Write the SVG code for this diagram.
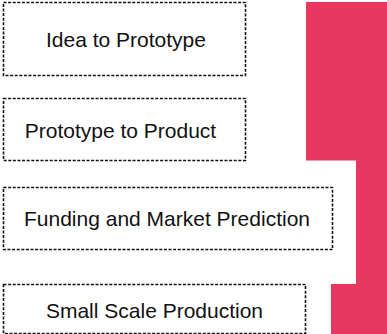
<svg xmlns="http://www.w3.org/2000/svg" width="387" height="334" viewBox="0 0 387 334">
<style>
.box{fill:#fff;stroke:#111;stroke-width:1.6;stroke-dasharray:3 1.6}
.lbl{font-family:"Liberation Sans",Arial,sans-serif;font-size:21px;fill:#111;text-anchor:middle}
</style>
<rect width="387" height="334" fill="#fff"/>
<g id="bar"><polygon points="306,2 387,2 387,334 331,334 331,284 356,284 356,160.5 306,160.5" fill="#E8385F"/></g>
<g id="n1"><rect class="box" x="3.5" y="2.5" width="242" height="73"/><text class="lbl" x="126" y="47">Idea to Prototype</text></g>
<g id="n2"><rect class="box" x="3.5" y="98.5" width="242" height="62"/><text class="lbl" x="120.5" y="138">Prototype to Product</text></g>
<g id="n3"><rect class="box" x="3.5" y="187.5" width="329" height="62"/><text class="lbl" x="167" y="226">Funding and Market Prediction</text></g>
<g id="n4"><rect class="box" x="3.5" y="284.5" width="302" height="49"/><text class="lbl" x="154.5" y="318">Small Scale Production</text></g>
<g id="connectors"/>
</svg>
